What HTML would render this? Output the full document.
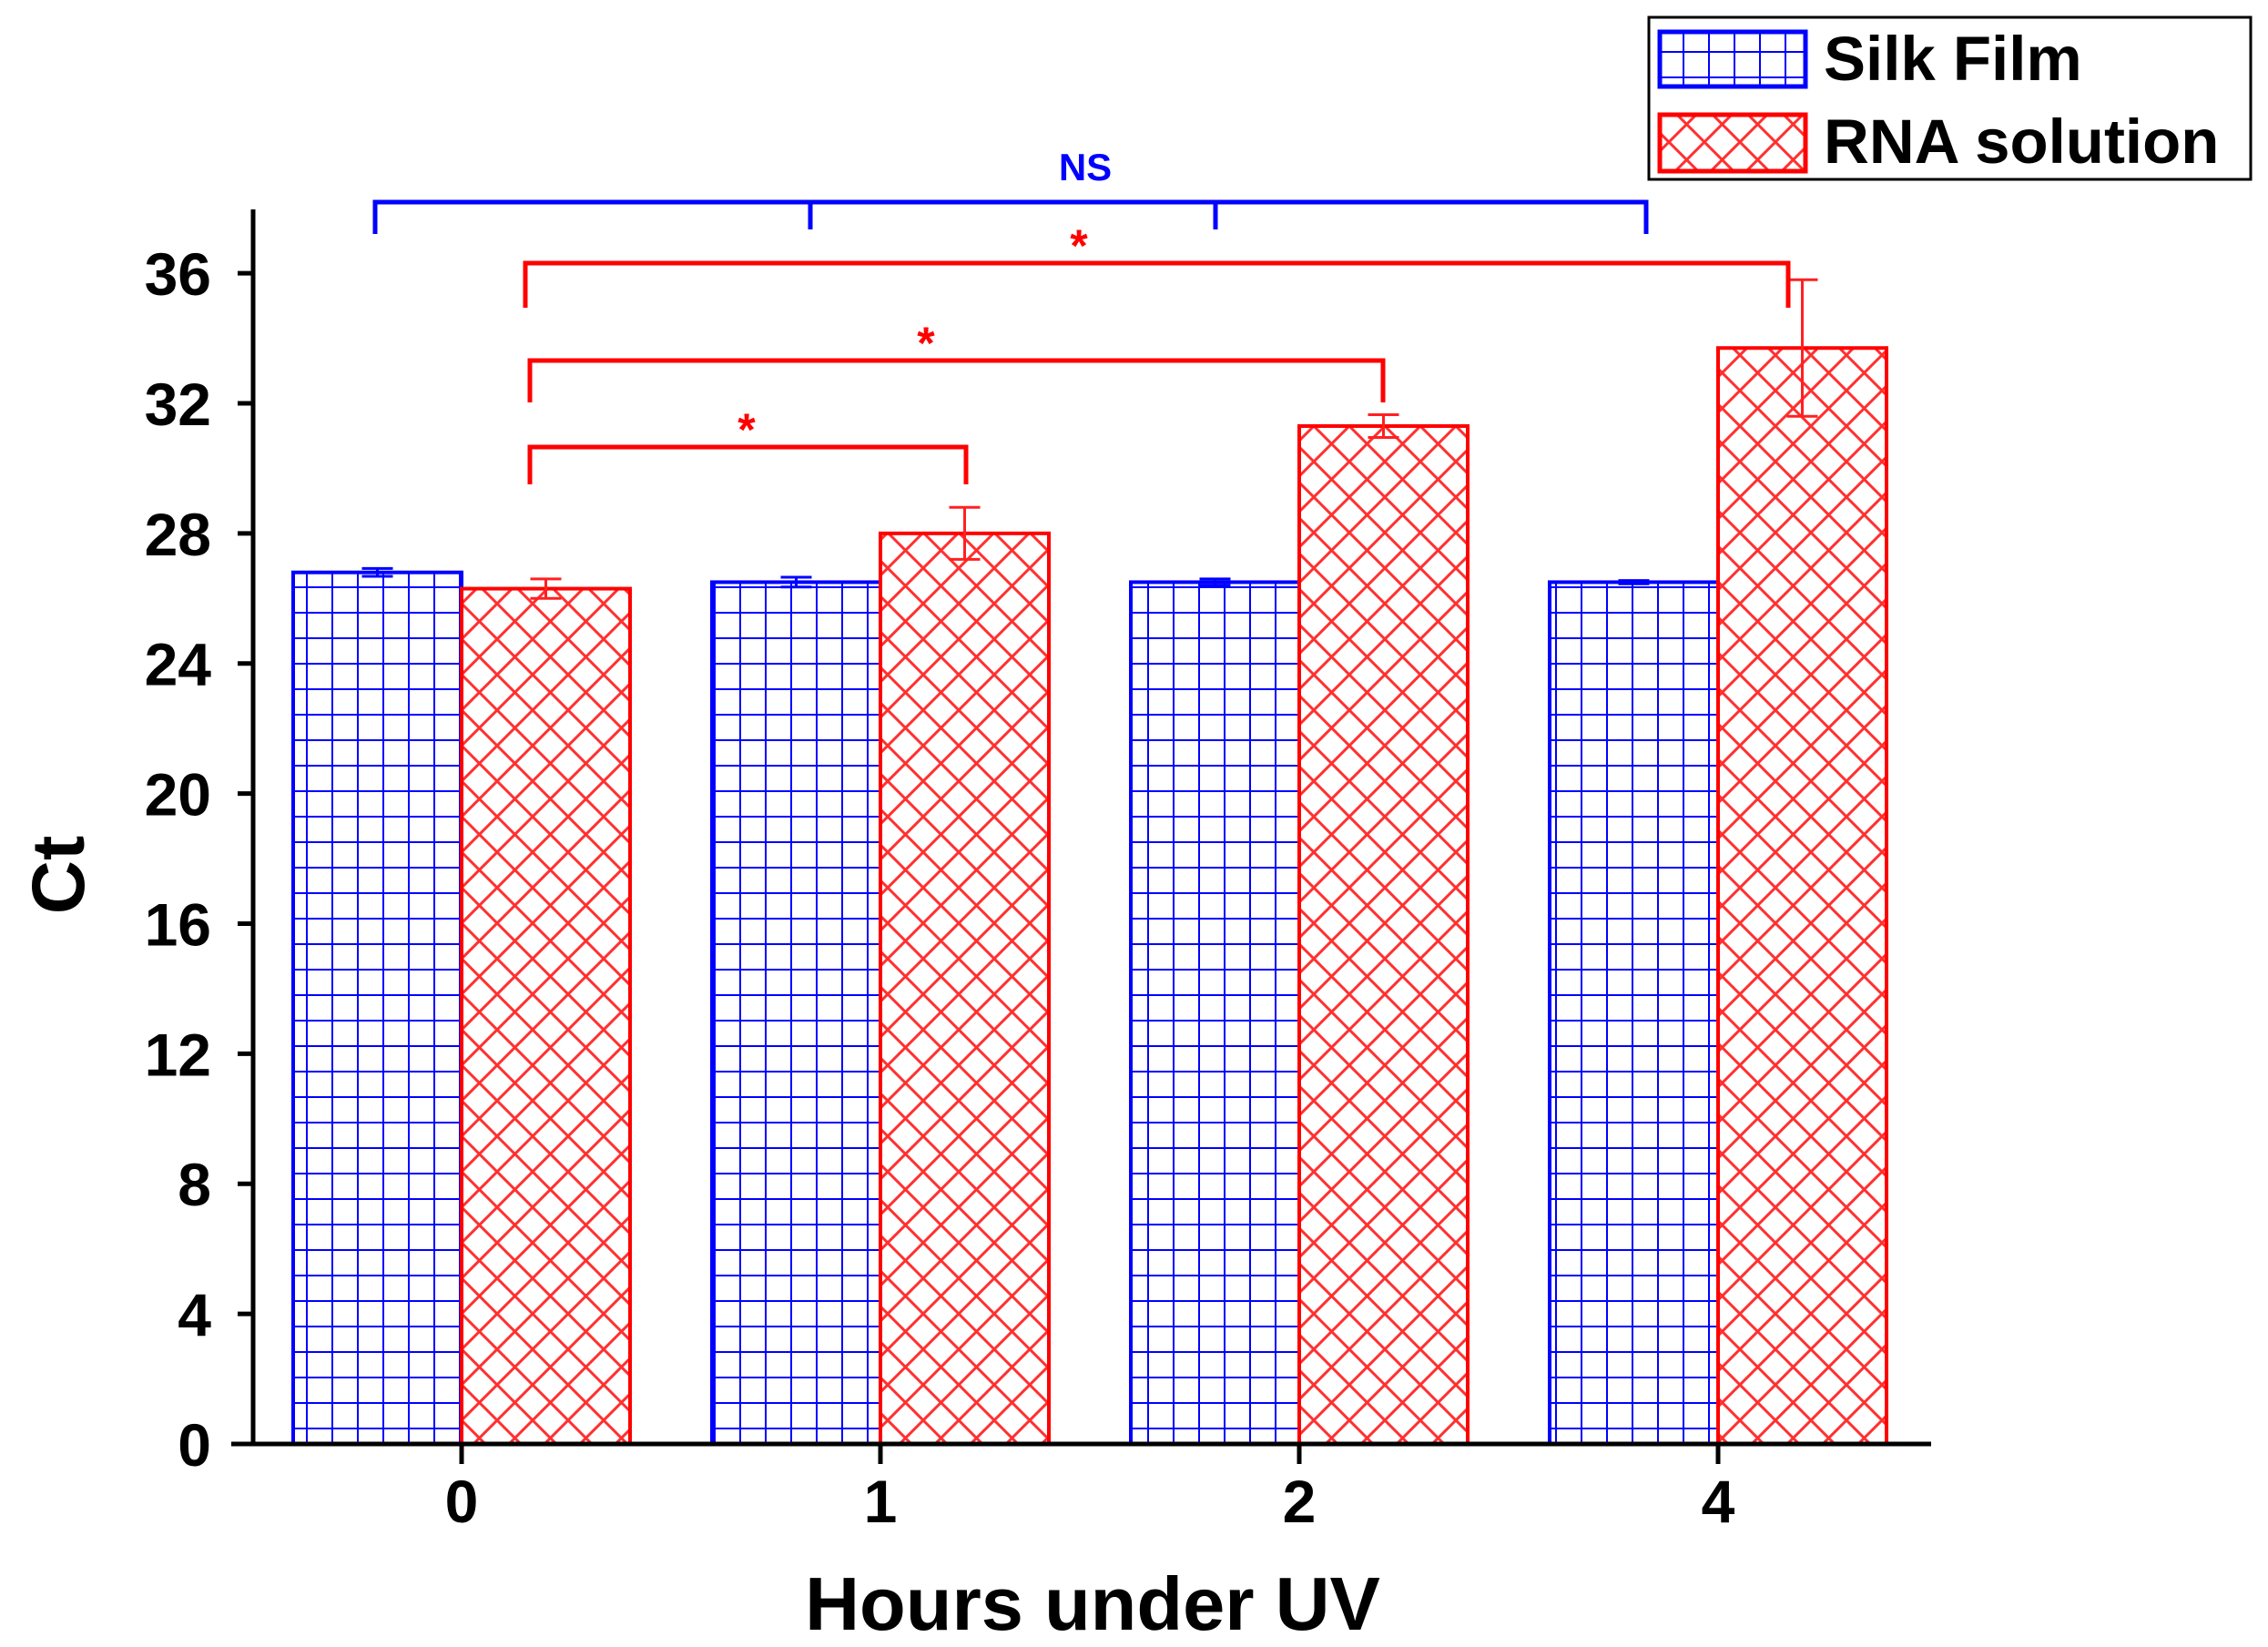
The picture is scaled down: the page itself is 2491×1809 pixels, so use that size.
<!DOCTYPE html>
<html><head><meta charset="utf-8"><style>
html,body{margin:0;padding:0;background:#fff;}
svg text{font-family:"Liberation Sans",Arial,sans-serif;font-weight:bold;}
</style></head><body>
<svg id="chart" width="2491" height="1804" viewBox="0 0 2491 1804" xmlns="http://www.w3.org/2000/svg">
<defs>
<pattern id="grid" width="28" height="28" patternUnits="userSpaceOnUse">
<path d="M0 0H28M0 0V28" stroke="#0000ff" stroke-width="4" fill="none"/>
</pattern>
<pattern id="cross" width="39" height="39" patternUnits="userSpaceOnUse">
<path d="M0 0L39 39M39 0L0 39" stroke="#ff3030" stroke-width="3" fill="none"/>
</pattern>
</defs>
<g id="plot"></g>
<g>
<rect x="1811" y="19" width="661" height="178" fill="#fff" stroke="#000" stroke-width="3"/>
<rect x="1823" y="35" width="160" height="60" fill="url(#grid)" stroke="#0000ff" stroke-width="5"/>
<text x="2003" y="88" font-size="69">Silk Film</text>
<rect x="1823" y="126" width="160" height="62" fill="url(#cross)" stroke="#ff0000" stroke-width="5"/>
<text x="2003" y="179" font-size="69">RNA solution</text>
</g>
</svg>
<script>
const categories = ["0","1","2","4"];
const silkValues = [26.8, 26.5, 26.5, 26.5];
const silkErrors = [0.12, 0.15, 0.1, 0.05];
const rnaValues = [26.3, 28.0, 31.3, 33.7];
const rnaErrors = [0.3, 0.8, 0.35, 2.1];
const yTicks = [0, 4, 8, 12, 16, 20, 24, 28, 32, 36];

const NS = "http://www.w3.org/2000/svg";
const g = document.getElementById('plot');
const X0 = 278, Y0 = 1586, PXU = 35.72;
const y = v => Y0 - v * PXU;
const cx = i => 507 + i * 460;
const BW = 185;
function mk(tag, attrs, parent) {
  const e = document.createElementNS(NS, tag);
  for (const k in attrs) e.setAttribute(k, attrs[k]);
  (parent || g).appendChild(e);
  return e;
}
categories.forEach((c, i) => {
  const b1 = mk('rect', {x: cx(i) - BW, y: y(silkValues[i]), width: BW, height: Y0 - y(silkValues[i]), fill: 'url(#grid)', stroke: '#0000ff', 'stroke-width': 4});
  
  
  const b2 = mk('rect', {x: cx(i), y: y(rnaValues[i]), width: BW, height: Y0 - y(rnaValues[i]), fill: 'url(#cross)', stroke: '#ff0000', 'stroke-width': 4});
  
  
  [[silkValues[i], silkErrors[i], cx(i) - BW / 2, '#0000ff', 'silk-film'], [rnaValues[i], rnaErrors[i], cx(i) + BW / 2, '#ff2020', 'rna-solution']].forEach(([v, e, x, col, nm]) => {
    const eg = mk('path', {d: `M${x} ${y(v + e)}V${y(v - e)}M${x - 17} ${y(v + e)}H${x + 17}M${x - 17} ${y(v - e)}H${x + 17}`, stroke: col, 'stroke-width': 3, fill: 'none'});
    
    
  });
});
const ax = mk('path', {d: `M${X0} 230V${Y0}M254 ${Y0}H2121`, stroke: '#000', 'stroke-width': 5, fill: 'none'});


yTicks.forEach(t => {
  const tk = mk('path', {d: `M${X0 - 17} ${y(t)}H${X0}`, stroke: '#000', 'stroke-width': 5});
  
  
  const tl = mk('text', {x: 232, y: y(t) + 24, 'font-size': 66, 'text-anchor': 'end'});
  tl.textContent = t;
  
  
});
categories.forEach((c, i) => {
  const tk = mk('path', {d: `M${cx(i)} ${Y0}V${Y0 + 22}`, stroke: '#000', 'stroke-width': 5});
  
  
  const tl = mk('text', {x: cx(i), y: Y0 + 86, 'font-size': 66, 'text-anchor': 'middle'});
  tl.textContent = c;
  
  
});
const xt = mk('text', {x: 1200, y: 1790, 'font-size': 83, 'text-anchor': 'middle'});
xt.textContent = 'Hours under UV';


const yt = mk('text', {x: 92, y: 961, 'font-size': 82, 'text-anchor': 'middle', transform: 'rotate(-90 92 961)'});
yt.textContent = 'Ct';


const nsB = mk('path', {d: 'M412 257V222H1808V257M890 222V252M1335 222V252', stroke: '#0000ff', 'stroke-width': 5, fill: 'none'});


const nsT = mk('text', {x: 1192, y: 198, 'font-size': 42, 'text-anchor': 'middle', fill: '#0000ff'});
nsT.textContent = 'NS';


[[577, 1964, 289, 338, 1185], [582, 1519, 396, 442, 1017], [582, 1061, 491, 532, 820]].forEach(([a, b, t, d, sx]) => {
  const br = mk('path', {d: `M${a} ${d}V${t}H${b}V${d}`, stroke: '#ff0000', 'stroke-width': 5, fill: 'none'});
  
  
  const st = mk('text', {x: sx, y: t - 2, 'font-size': 50, 'text-anchor': 'middle', fill: '#ff0000'});
  st.textContent = '*';
  
  
});
</script>
</body></html>
